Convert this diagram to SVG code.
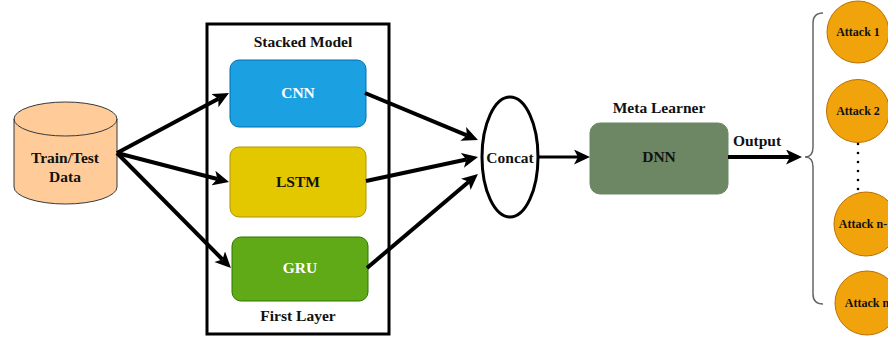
<svg xmlns="http://www.w3.org/2000/svg" width="888" height="337" viewBox="0 0 888 337">
<style>
  text { font-family: "Liberation Serif", "Times New Roman", serif; font-weight: bold; text-anchor: middle; fill: #111; }
  .lbl { font-size: 15.5px; }
  .small { font-size: 12px; }
  .white { fill: #ffffff; }
  .box { stroke-width: 1; }
  .conn { fill: none; stroke: #000; stroke-width: 4; }
  .conn3 { fill: none; stroke: #000; stroke-width: 3; }
  .attack { fill: #f0a30a; stroke: #bd7000; stroke-width: 1; }
</style>
<defs>
  <marker id="arrow" markerUnits="userSpaceOnUse" markerWidth="17" markerHeight="16" refX="4" refY="7.5" orient="auto">
    <path d="M0,0 L16,7.5 L0,15 L4,7.5 Z" fill="#000"/>
  </marker>
</defs>
<rect width="888" height="337" fill="#ffffff"/>

<g id="stacked-model">
  <rect x="207" y="24" width="182" height="310" fill="none" stroke="#000" stroke-width="3"/>
  <text class="lbl" x="303" y="47">Stacked Model</text>
  <text class="lbl" x="298" y="321">First Layer</text>
</g>

<g id="data">
  <path d="M14,119 A51.5,17 0 0 1 117,119 L117,187 A51.5,17 0 0 1 14,187 Z" fill="#ffcc99" stroke="#36393d" stroke-width="1"/>
  <path d="M14,119 A51.5,17 0 0 0 117,119" fill="none" stroke="#36393d" stroke-width="1"/>
  <text class="lbl" x="65" y="163">Train/Test</text>
  <text class="lbl" x="65" y="182">Data</text>
</g>

<g id="cnn">
  <rect class="box" x="230" y="60" width="136" height="67" rx="9" fill="#1ba1e2" stroke="#006eaf"/>
  <text class="lbl white" x="298" y="98">CNN</text>
</g>
<g id="lstm">
  <rect class="box" x="230" y="147" width="136" height="70" rx="9" fill="#e3c800" stroke="#b09500"/>
  <text class="lbl" x="298" y="187">LSTM</text>
</g>
<g id="gru">
  <rect class="box" x="232" y="237" width="136" height="64" rx="9" fill="#60a917" stroke="#2d7600"/>
  <text class="lbl white" x="300" y="273">GRU</text>
</g>

<g id="concat">
  <ellipse cx="510" cy="157" rx="28" ry="60" fill="#ffffff" stroke="#000" stroke-width="3"/>
  <text class="lbl" x="510" y="163">Concat</text>
</g>

<g id="dnn">
  <text class="lbl" x="659" y="113">Meta Learner</text>
  <rect class="box" x="590" y="123" width="138" height="71" rx="10" fill="#6d8764" stroke="#6d8764"/>
  <text class="lbl" x="659" y="162">DNN</text>
</g>

<g id="output-label">
  <text class="lbl" x="757" y="146">Output</text>
</g>

<g id="brace">
  <path d="M823,13 Q813,13 813,23 L813,147 Q813,157 805,157 Q813,157 813,167 L813,294 Q813,304 823,304" fill="none" stroke="#666" stroke-width="1.5"/>
</g>

<g id="attack-1">
  <circle class="attack" cx="858" cy="32" r="31"/>
  <text class="small" x="858" y="36">Attack 1</text>
</g>
<g id="attack-2">
  <circle class="attack" cx="858" cy="111" r="31.5"/>
  <text class="small" x="858" y="115">Attack 2</text>
</g>
<g id="ellipsis">
  <g fill="#000">
    <circle cx="858" cy="144" r="1.3"/>
    <circle cx="858" cy="153" r="1.3"/>
    <circle cx="858" cy="162" r="1.3"/>
    <circle cx="858" cy="171" r="1.3"/>
    <circle cx="858" cy="180" r="1.3"/>
    <circle cx="858" cy="189" r="1.3"/>
  </g>
</g>
<g id="attack-n-1">
  <circle class="attack" cx="866" cy="224" r="32"/>
  <text class="small" x="866" y="228">Attack n-1</text>
</g>
<g id="attack-n">
  <circle class="attack" cx="867" cy="303" r="32"/>
  <text class="small" x="867" y="307">Attack n</text>
</g>

<g id="connectors">
  <line class="conn" x1="117" y1="153" x2="218.4" y2="98.7" marker-end="url(#arrow)"/>
  <line class="conn" x1="117" y1="153" x2="217.4" y2="179" marker-end="url(#arrow)"/>
  <line class="conn" x1="117" y1="153" x2="222.5" y2="259.5" marker-end="url(#arrow)"/>
  <line class="conn" x1="365" y1="93" x2="466.9" y2="135.4" marker-end="url(#arrow)"/>
  <line class="conn" x1="366" y1="181" x2="466.3" y2="159.5" marker-end="url(#arrow)"/>
  <line class="conn" x1="367" y1="268" x2="468.8" y2="181.8" marker-end="url(#arrow)"/>
  <line class="conn3" x1="539" y1="157" x2="578" y2="157" marker-end="url(#arrow)"/>
  <line class="conn" x1="728" y1="157" x2="790" y2="157" marker-end="url(#arrow)"/>
</g>
</svg>
